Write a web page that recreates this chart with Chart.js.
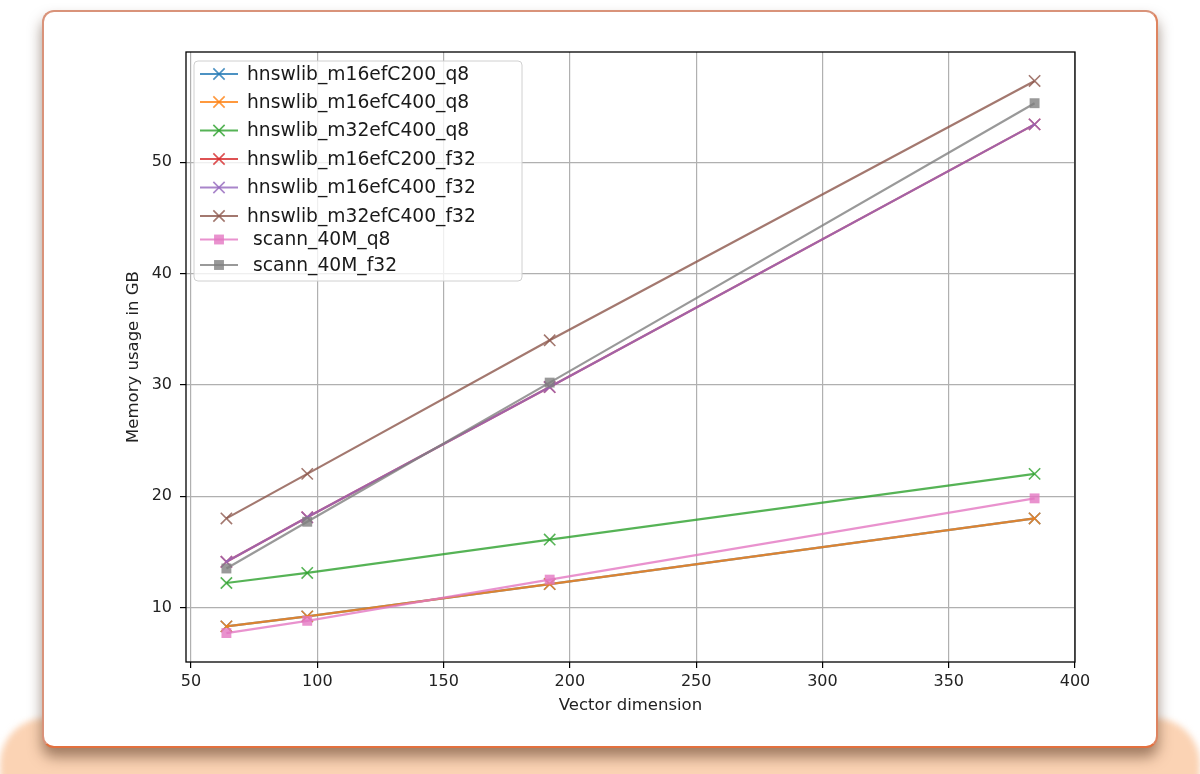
<!DOCTYPE html>
<html>
<head>
<meta charset="utf-8">
<script src="https://cdn.jsdelivr.net/npm/chart.js@4.4.1/dist/chart.umd.min.js"></script>
<style>
  html, body { margin: 0; padding: 0; background: #ffffff; }
  body { width: 1200px; height: 774px; position: relative; overflow: hidden; }
  .backdrop {
    position: absolute; left: 0; top: 718px; width: 1200px; height: 100px;
    background: #fbd3b4; border-radius: 46px; filter: blur(3px);
  }
  .card {
    position: absolute; left: 42px; top: 10px; width: 1116px; height: 738px;
    box-sizing: border-box; background: #ffffff;
    border: 2px solid #d9937a; border-bottom-color: #e3703e; border-right-color: #de8460;
    border-radius: 12px; box-shadow: 0 9px 14px rgba(70, 35, 15, 0.5);
  }
  #chart { position: absolute; left: 0; top: 0; }
</style>
</head>
<body>
<div class="backdrop"></div>
<div class="card"></div>
<canvas id="chart" width="1200" height="774"></canvas>
<script>
// ====================================
// DATA
// ====================================
const dims = [64, 96, 192, 384];

const m16efC200_q8 = [8.3, 9.2, 12.1, 18.0];
const m16efC400_q8 = [8.3, 9.2, 12.1, 18.0];
const m32efC400_q8 = [12.2, 13.1, 16.1, 22.0];
const m16efC200_f32 = [14.1, 18.1, 29.8, 53.4];
const m16efC400_f32 = [14.1, 18.1, 29.8, 53.4];
const m32efC400_f32 = [18.0, 22.0, 34.0, 57.3];
const scann_q8 = [7.7, 8.8, 12.5, 19.8];
const scann_f32 = [13.5, 17.7, 30.2, 55.3];

const xTicks = [50, 100, 150, 200, 250, 300, 350, 400];
const yTicks = [10, 20, 30, 40, 50];

// ====================================
// DATASETS
// ====================================
const seriesList = [
  { label: "hnswlib_m16efC200_q8", values: m16efC200_q8, color: "31, 119, 180", marker: "crossRot" },
  { label: "hnswlib_m16efC400_q8", values: m16efC400_q8, color: "255, 127, 14", marker: "crossRot" },
  { label: "hnswlib_m32efC400_q8", values: m32efC400_q8, color: "44, 160, 44", marker: "crossRot" },
  { label: "hnswlib_m16efC200_f32", values: m16efC200_f32, color: "214, 39, 40", marker: "crossRot" },
  { label: "hnswlib_m16efC400_f32", values: m16efC400_f32, color: "148, 103, 189", marker: "crossRot" },
  { label: "hnswlib_m32efC400_f32", values: m32efC400_f32, color: "140, 86, 75", marker: "crossRot" },
  { label: " scann_40M_q8", values: scann_q8, color: "227, 119, 194", marker: "rect" },
  { label: " scann_40M_f32", values: scann_f32, color: "127, 127, 127", marker: "rect" },
];

const datasets = seriesList.map(function (s, i) {
  const c = "rgba(" + s.color + ", 0.8)";
  return {
    label: s.label,
    data: dims.map((d, j) => ({ x: d, y: s.values[j] })),
    borderColor: c,
    backgroundColor: c,
    borderWidth: 2.2,
    pointStyle: s.marker,
    pointRadius: s.marker === "rect" ? 7 : 8,
    pointBorderWidth: s.marker === "rect" ? 0 : 1.6,
    pointBorderColor: c,
    pointBackgroundColor: c,
    tension: 0,
    fill: false,
    order: seriesList.length - i, // later series on top, like matplotlib
  };
});

// ====================================
// FRAME + LEGEND PLUGIN
// ====================================
const legendRows = [74, 102, 130.5, 159, 187.5, 216, 239.5, 265];

const framePlugin = {
  id: "frameLegend",
  afterDraw: function (chart) {
    const ctx = chart.ctx;
    const a = chart.chartArea;

    // axes spines
    ctx.save();
    ctx.strokeStyle = "#000000";
    ctx.lineWidth = 1.3;
    ctx.strokeRect(a.left, a.top, a.right - a.left, a.bottom - a.top);
    ctx.restore();

    // legend box
    ctx.save();
    ctx.beginPath();
    ctx.roundRect(194, 61, 328, 220, 4);
    ctx.fillStyle = "rgba(255, 255, 255, 0.8)";
    ctx.fill();
    ctx.strokeStyle = "#d0d0d0";
    ctx.lineWidth = 1;
    ctx.stroke();

    chart.data.datasets.forEach(function (ds, i) {
      const y = legendRows[i];
      ctx.strokeStyle = ds.borderColor;
      ctx.lineWidth = 2.2;
      ctx.beginPath();
      ctx.moveTo(200, y);
      ctx.lineTo(238, y);
      ctx.stroke();

      // marker
      ctx.fillStyle = ds.pointBackgroundColor;
      ctx.strokeStyle = ds.pointBorderColor;
      ctx.lineWidth = ds.pointBorderWidth || 1;
      Chart.helpers.drawPoint(ctx, {
        pointStyle: ds.pointStyle,
        radius: ds.pointRadius,
        borderWidth: ds.pointBorderWidth,
        rotation: 0,
      }, 219, y);

      ctx.fillStyle = "#1a1a1a";
      ctx.font = "18.7px 'DejaVu Sans'";
      ctx.textBaseline = "middle";
      ctx.textAlign = "left";
      ctx.fillText(ds.label, 247, y + 1);
    });
    ctx.restore();
  },
};

// ====================================
// CHART
// ====================================
const tickFont = { family: "'DejaVu Sans'", size: 16 };
const titleFont = { family: "'DejaVu Sans'", size: 16.5 };

new Chart(document.getElementById("chart").getContext("2d"), {
  type: "line",
  data: { datasets: datasets },
  options: {
    responsive: false,
    animation: false,
    devicePixelRatio: 1,
    layout: { padding: { left: 110, top: 52, right: 125, bottom: 50 } },
    plugins: {
      legend: { display: false },
      tooltip: { enabled: false },
    },
    scales: {
      x: {
        type: "linear",
        min: 48,
        max: 400,
        afterBuildTicks: function (scale) {
          scale.ticks = xTicks.map((v) => ({ value: v }));
        },
        afterFit: function (scale) {
          scale.height = 62;
        },
        grid: {
          color: "#b0b0b0",
          lineWidth: 1.2,
          tickColor: "#000000",
          tickLength: 6,
          tickWidth: 1.2,
        },
        border: { display: false },
        ticks: { color: "#222222", font: tickFont, padding: 4, maxRotation: 0 },
        title: {
          display: true,
          text: "Vector dimension",
          color: "#222222",
          font: titleFont,
          padding: { top: 0, bottom: 8 },
        },
      },
      y: {
        type: "linear",
        min: 5.1,
        max: 59.9,
        afterBuildTicks: function (scale) {
          scale.ticks = yTicks.map((v) => ({ value: v }));
        },
        afterFit: function (scale) {
          scale.width = 76;
        },
        grid: {
          color: "#b0b0b0",
          lineWidth: 1.2,
          tickColor: "#000000",
          tickLength: 6,
          tickWidth: 1.2,
        },
        border: { display: false },
        ticks: { color: "#222222", font: tickFont, padding: 8 },
        title: {
          display: true,
          text: "Memory usage in GB",
          color: "#222222",
          font: titleFont,
          padding: { top: 14, bottom: 0 },
        },
      },
    },
  },
  plugins: [framePlugin],
});
</script>
</body>
</html>
